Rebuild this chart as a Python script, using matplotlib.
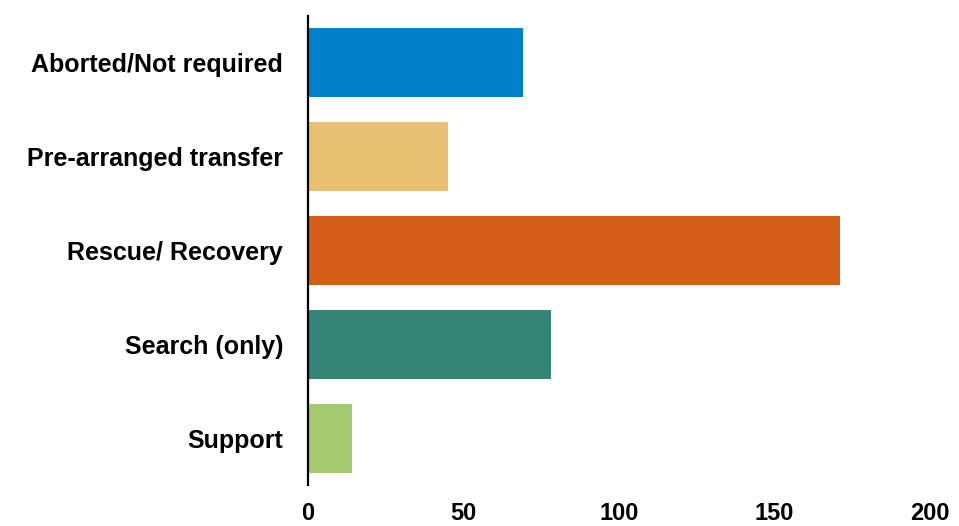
import matplotlib
matplotlib.use('Agg')
import matplotlib.pyplot as plt

plt.rcParams['font.family'] = ['Liberation Sans', 'DejaVu Sans']

# 任务类型及次数
categories = ['Aborted/Not required', 'Pre-arranged transfer', 'Rescue/ Recovery',
              'Search (only)', 'Support']
counts = [69, 45, 171, 78, 14]
colors = ['#0081CC', '#E9BF72', '#D35F17', '#348575', '#A3CB6E']
xticks = [0, 50, 100, 150, 200]

fig = plt.figure(figsize=(9.59, 5.26), dpi=100)
ax = fig.add_axes([0.3212, 0.077, 0.6486, 0.8935])

ax.barh(range(len(categories)), counts, height=0.73, color=colors)
ax.set_ylim(len(categories) - 0.5, -0.5)
ax.set_xlim(0, 200)
ax.set_yticks(range(len(categories)))
ax.set_yticklabels(categories, fontsize=18, fontweight='bold')
ax.set_xticks(xticks)
ax.set_xticklabels([str(t) for t in xticks], fontsize=17, fontweight='bold')
ax.tick_params(axis='y', length=0, pad=18)
ax.tick_params(axis='x', length=0, pad=12)

for s in ['top', 'right', 'bottom']:
    ax.spines[s].set_visible(False)
ax.spines['left'].set_linewidth(1.6)
ax.spines['left'].set_color('black')

fig.savefig('out.png', dpi=100)
